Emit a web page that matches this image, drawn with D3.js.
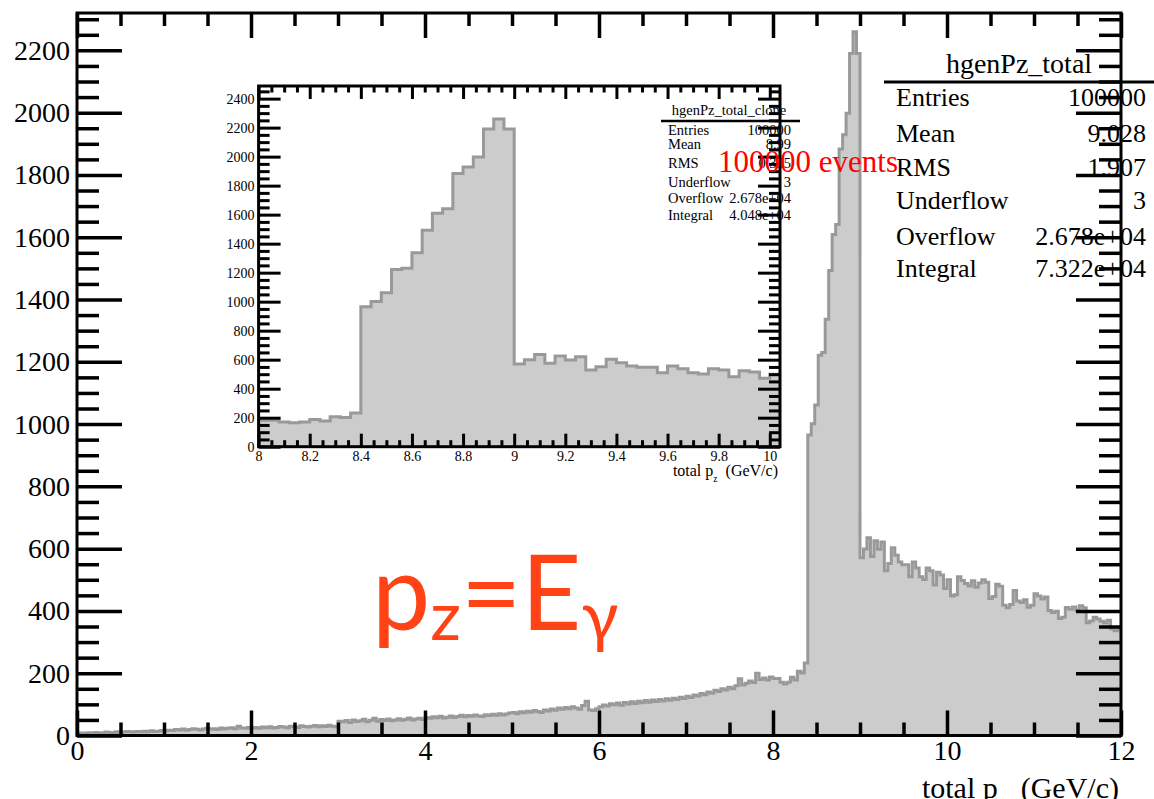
<!DOCTYPE html>
<html>
<head>
<meta charset="utf-8">
<script src="https://cdnjs.cloudflare.com/ajax/libs/d3/7.8.5/d3.min.js"></script>
<style>
  body { margin: 0; background: #fff; }
  svg { display: block; }
  text { font-family: "Liberation Serif", "Times New Roman", serif; }
</style>
</head>
<body>
<div id="chart"></div>
<script>
// histogram hgenPz_total : 300 bins of 0.04 GeV/c from 0 to 12
const binLow = 0;
const binWidth = 0.04;
const counts = [
  // 0 - 1
  6, 8, 7, 9, 8, 10, 9, 8, 11, 10, 9, 12, 10, 11, 13, 12, 11, 13, 12, 14, 12, 15, 13, 14, 16,
  // 1 - 2
  15, 17, 16, 19, 18, 21, 17, 19, 22, 20, 18, 21, 23, 20, 22, 19, 24, 21, 23, 25, 22, 30, 24, 23, 26,
  // 2 - 3
  24, 26, 23, 27, 25, 28, 24, 26, 29, 27, 25, 30, 28, 26, 31, 29, 27, 30, 32, 28, 31, 29, 33, 30, 28,
  // 3 - 4
  46, 44, 48, 42, 50, 45, 47, 52, 44, 49, 55, 46, 51, 48, 53, 47, 50, 54, 49, 52, 56, 50, 53, 55, 51,
  // 4 - 5
  58, 55, 60, 57, 62, 56, 59, 63, 58, 61, 65, 60, 64, 62, 66, 63, 61, 67, 64, 68, 65, 70, 66, 69, 72,
  // 5 - 6
  74, 70, 76, 73, 78, 75, 80, 77, 74, 82, 79, 85, 81, 88, 84, 90, 86, 92, 88, 84, 96, 110, 82, 80, 86,
  // 6 - 7
  92, 98, 95, 102, 99, 104, 97, 106, 101, 108, 103, 110, 105, 112, 107, 114, 109, 116, 111, 118, 113, 120, 116, 123, 119,
  // 7 - 8
  126, 122, 130, 127, 135, 131, 140, 136, 145, 141, 150, 146, 155, 150, 160, 182, 162, 168, 175, 170, 200, 180, 185, 178, 188,
  // 8 - 9
  183, 183, 171, 165, 171, 187, 178, 206, 201, 233, 965, 1001, 1061, 1221, 1230, 1337, 1493, 1609, 1641, 1883, 1929, 1998, 2190, 2260, 2190,
  // 9 - 10
  571, 599, 635, 575, 625, 598, 621, 529, 552, 603, 579, 557, 548, 548, 510, 557, 538, 510, 501, 538, 529, 483, 524, 515, 472,
  // 10 - 11
  500, 448, 452, 510, 498, 488, 480, 497, 476, 490, 500, 492, 440, 446, 486, 479, 418, 410, 421, 466, 432, 427, 436, 412, 418,
  // 11 - 12
  455, 448, 438, 445, 401, 395, 399, 376, 380, 411, 405, 413, 402, 417, 410, 362, 368, 380, 374, 367, 362, 370, 343, 336, 341
];

const mainXTicks = [0, 2, 4, 6, 8, 10, 12];
const mainYTicks = [0, 200, 400, 600, 800, 1000, 1200, 1400, 1600, 1800, 2000, 2200];
// the clone is shown over bins 200..250, i.e. 8.00 to 10.04
const insetFirstBin = 200, insetLastBin = 250;
const insetXTicks = [8, 8.2, 8.4, 8.6, 8.8, 9, 9.2, 9.4, 9.6, 9.8, 10];
const insetYTicks = [0, 200, 400, 600, 800, 1000, 1200, 1400, 1600, 1800, 2000, 2200, 2400];

const mainStatsTitle = "hgenPz_total";
const mainStatsNames = ["Entries", "Mean", "RMS", "Underflow", "Overflow", "Integral"];
const mainStatsValues = ["100000", "9.028", "1.907", "3", "2.678e+04", "7.322e+04"];
const insetStatsTitle = "hgenPz_total_clone";
const insetStatsValues = ["100000", "8.99", "0.355", "3", "2.678e+04", "4.048e+04"];

const W = 1154, H = 799;
const svg = d3.select("#chart").append("svg").attr("width", W).attr("height", H);

const stepPts = (vals, lo) => vals.flatMap((v, i) => [[lo + i * binWidth, v], [lo + (i + 1) * binWidth, v]]);

function drawHist(g, x, y, vals, lo, id, lw) {
  const [x0, x1] = x.range(), [y0, y1] = y.range();
  g.append("clipPath").attr("id", id)
    .append("rect").attr("x", x0).attr("y", y1).attr("width", x1 - x0).attr("height", y0 - y1);
  const pts = stepPts(vals, lo);
  const hg = g.append("g").attr("clip-path", `url(#${id})`);
  hg.append("path").datum(pts)
    .attr("fill", "#cccccc")
    .attr("d", d3.area().x(d => x(d[0])).y0(y(0)).y1(d => y(d[1])));
  hg.append("path").datum(pts)
    .attr("fill", "none").attr("stroke", "#999999").attr("stroke-width", lw)
    .attr("d", d3.line().x(d => x(d[0])).y(d => y(d[1])));
}

function tickSet(g, axisFn, scale, values, len, width, fmt, fontSize, pad) {
  const a = axisFn(scale).tickValues(values).tickSize(-len).tickPadding(pad || 3)
    .tickFormat(fmt || (() => ""));
  const s = g.call(a);
  s.select(".domain").remove();
  s.selectAll("line").attr("stroke", "#000").attr("stroke-width", width);
  s.selectAll("text").attr("fill", "#000").attr("font-size", fontSize)
    .attr("font-family", "Liberation Serif, Times New Roman, serif");
  return s;
}

function frameAxes(g, x, y, o) {
  const [x0, x1] = x.range(), [y0, y1] = y.range();
  const xd = x.domain(), yd = y.domain();
  const xMinor = d3.range(xd[0], xd[1] + 1e-9, o.xMinorStep).filter(v => !o.xTicks.some(t => Math.abs(t - v) < 1e-6));
  const yMinor = d3.range(yd[0], yd[1], o.yMinorStep).filter(v => !o.yTicks.some(t => Math.abs(t - v) < 1e-6));
  const fmt = d => String(+d.toFixed(2));

  // bottom
  tickSet(g.append("g").attr("transform", `translate(0,${y0})`), d3.axisBottom, x, xMinor, o.xMinLen, o.tw);
  tickSet(g.append("g").attr("transform", `translate(0,${y0})`), d3.axisBottom, x, o.xTicks, o.xMajLen, o.tw, fmt, o.fs, o.xPad);
  // top
  tickSet(g.append("g").attr("transform", `translate(0,${y1})`), d3.axisTop, x, xMinor, o.xMinLen, o.tw);
  tickSet(g.append("g").attr("transform", `translate(0,${y1})`), d3.axisTop, x, o.xTicks, o.xMajLen, o.tw);
  // left
  tickSet(g.append("g").attr("transform", `translate(${x0},0)`), d3.axisLeft, y, yMinor, o.yMinLen, o.tw);
  tickSet(g.append("g").attr("transform", `translate(${x0},0)`), d3.axisLeft, y, o.yTicks, o.yMajLen, o.tw, fmt, o.fs, o.yPad);
  // right
  tickSet(g.append("g").attr("transform", `translate(${x1},0)`), d3.axisRight, y, yMinor, o.yMinLen, o.tw);
  tickSet(g.append("g").attr("transform", `translate(${x1},0)`), d3.axisRight, y, o.yTicks, o.yMajLen, o.tw);

  g.append("rect").attr("x", x0).attr("y", y1).attr("width", x1 - x0).attr("height", y0 - y1)
    .attr("fill", "none").attr("stroke", "#000").attr("stroke-width", o.fw);
}

function statsBox(g, o) {
  g.append("text").attr("x", o.cx).attr("y", o.titleY).attr("text-anchor", "middle")
    .attr("font-size", o.titleSize).text(o.title);
  g.append("line").attr("x1", o.lineX0).attr("x2", o.lineX1).attr("y1", o.lineY).attr("y2", o.lineY)
    .attr("stroke", "#000").attr("stroke-width", o.lw);
  o.names.forEach((n, i) => {
    g.append("text").attr("x", o.left).attr("y", o.rows[i]).attr("font-size", o.size).text(n);
    g.append("text").attr("x", o.right).attr("y", o.rows[i]).attr("text-anchor", "end")
      .attr("font-size", o.size).text(o.values[i]);
  });
}

function axisTitle(g, xr, yb, size) {
  const t = g.append("text").attr("x", xr).attr("y", yb).attr("text-anchor", "end").attr("font-size", size);
  t.append("tspan").text("total p");
  t.append("tspan").attr("font-size", size * 0.6).attr("dy", size * 0.35).text("z");
  t.append("tspan").attr("dy", -size * 0.35).text("\u2002(GeV/c)");
}

// ---------- main pad ----------
const x = d3.scaleLinear().domain([0, 12]).range([77, 1121]);
const y = d3.scaleLinear().domain([0, 2320]).range([735.5, 13]);
const mainG = svg.append("g");
drawHist(mainG, x, y, counts, binLow, "clipMain", 3);
statsBox(mainG, {
  title: mainStatsTitle, cx: 1019, titleY: 73, titleSize: 28,
  lineX0: 884, lineX1: 1160, lineY: 82, lw: 3,
  names: mainStatsNames, values: mainStatsValues,
  left: 896, right: 1146, size: 26,
  rows: [106, 141.5, 175.5, 208.5, 244.5, 276.5]
});
frameAxes(mainG, x, y, {
  xTicks: mainXTicks, yTicks: mainYTicks, xMinorStep: 0.5, yMinorStep: 50,
  xMajLen: 25, xMinLen: 13, yMajLen: 45, yMinLen: 22, tw: 3.5, fw: 3,
  fs: 28, xPad: 5, yPad: 7
});
axisTitle(mainG, 1119, 798, 30);

// ---------- inset pad ----------
const insetLo = binLow + insetFirstBin * binWidth;
const insetHi = binLow + (insetLastBin + 1) * binWidth;
const xi = d3.scaleLinear().domain([insetLo, insetHi]).range([258.6, 780]);
const yi = d3.scaleLinear().domain([0, 2487]).range([446.7, 86]);
const insetG = svg.append("g");
drawHist(insetG, xi, yi, counts.slice(insetFirstBin, insetLastBin + 1), insetLo, "clipInset", 3);
statsBox(insetG, {
  title: insetStatsTitle, cx: 729, titleY: 115, titleSize: 14.5,
  lineX0: 661, lineX1: 800, lineY: 121, lw: 2.5,
  names: mainStatsNames, values: insetStatsValues,
  left: 668, right: 791, size: 14.5,
  rows: [135, 148.5, 168.3, 186.7, 203.3, 220]
});
frameAxes(insetG, xi, yi, {
  xTicks: insetXTicks, yTicks: insetYTicks, xMinorStep: 0.05, yMinorStep: 50,
  xMajLen: 13, xMinLen: 6.5, yMajLen: 22, yMinLen: 11, tw: 3, fw: 3,
  fs: 14, xPad: 4, yPad: 4
});
axisTitle(insetG, 778, 476, 16);

// ---------- annotations ----------
svg.append("text").attr("x", 718).attr("y", 172).attr("font-size", 31).attr("fill", "#ff0000")
  .text("100000 events");

const big = svg.append("text").attr("x", 372).attr("y", 630).attr("fill", "#ff4316")
  .style("font-family", "Lato, 'Open Sans', sans-serif").attr("font-size", 104);
big.append("tspan").text("p");
big.append("tspan").attr("font-size", 68).attr("dy", 10).text("z");
big.append("tspan").attr("dy", -10).text("=E");
big.append("tspan").attr("font-size", 68).attr("dy", 10).text("\u03b3");
</script>
</body>
</html>
